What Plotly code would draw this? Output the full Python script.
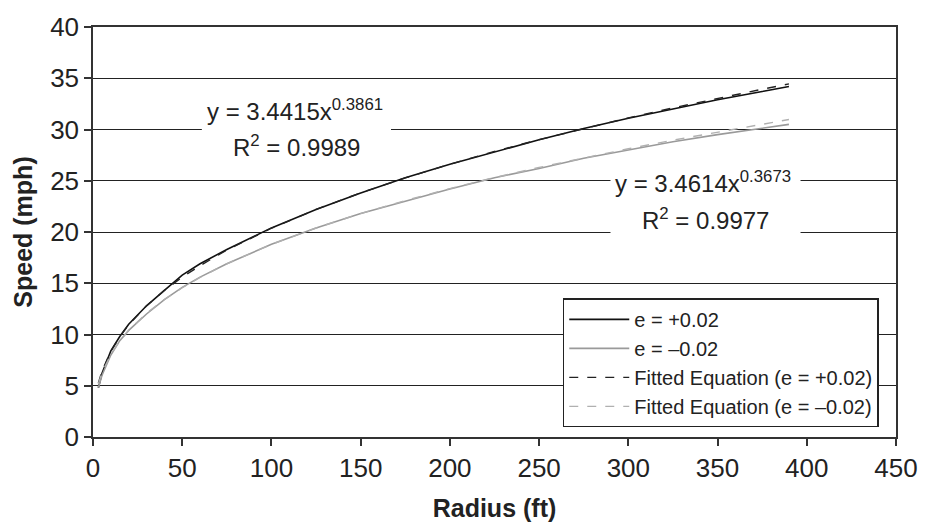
import plotly.graph_objects as go

# ---- data ----
radius = [3, 5, 10, 15, 20, 30, 40, 50, 60, 75, 100, 125, 150, 175, 200,
          225, 250, 275, 300, 325, 350, 375, 390]
speed_pos = [4.8, 6.2, 8.4, 9.8, 11.0, 12.8, 14.3, 15.8, 16.9, 18.3, 20.4, 22.2,
             23.8, 25.3, 26.6, 27.8, 29.0, 30.1, 31.1, 32.0, 32.9, 33.7, 34.2]
speed_neg = [4.8, 6.0, 8.0, 9.4, 10.4, 12.0, 13.4, 14.6, 15.6, 16.9, 18.8, 20.4,
             21.8, 23.0, 24.2, 25.3, 26.2, 27.2, 28.0, 28.8, 29.5, 30.1, 30.5]
fit_pos = [5.26, 6.41, 8.37, 9.79, 10.94, 12.80, 14.30, 15.59, 16.72, 18.23, 20.37,
           22.20, 23.82, 25.28, 26.61, 27.86, 29.01, 30.10, 31.13, 32.11, 33.04,
           33.93, 34.45]
fit_neg = [5.18, 6.25, 8.06, 9.36, 10.40, 12.07, 13.42, 14.56, 15.57, 16.90, 18.79,
           20.39, 21.80, 23.07, 24.23, 25.31, 26.30, 27.24, 28.12, 28.96, 29.76,
           30.53, 30.97]

series_names = ["e = +0.02", "e = \u20130.02",
                "Fitted Equation (e = +0.02)", "Fitted Equation (e = \u20130.02)"]

eq1 = "y = 3.4415x<sup>0.3861</sup>"
r1 = "R<sup>2</sup> = 0.9989"
eq2 = "y = 3.4614x<sup>0.3673</sup>"
r2 = "R<sup>2</sup> = 0.9977"

FONT = "Liberation Sans, Arial, sans-serif"

fig = go.Figure()
fig.add_trace(go.Scatter(x=radius, y=speed_pos, mode="lines", name=series_names[0],
                         line=dict(color="#111111", width=1.6), legendgroup="a"))
fig.add_trace(go.Scatter(x=radius, y=speed_neg, mode="lines", name=series_names[1],
                         line=dict(color="#9a9a9a", width=1.6), legendgroup="b"))
fig.add_trace(go.Scatter(x=radius, y=fit_pos, mode="lines", name=series_names[2],
                         line=dict(color="#222222", width=1.4, dash="dash"), legendgroup="c"))
fig.add_trace(go.Scatter(x=radius, y=fit_neg, mode="lines", name=series_names[3],
                         line=dict(color="#b0b0b0", width=1.4, dash="dash"), legendgroup="d"))

# white masks breaking gridlines behind the equations
fig.add_shape(type="rect", x0=61, x1=167, y0=29.4, y1=30.6, xref="x", yref="y",
              fillcolor="white", line=dict(width=0), layer="above")
fig.add_shape(type="rect", x0=290, x1=396.5, y0=19.4, y1=25.6, xref="x", yref="y",
              fillcolor="white", line=dict(width=0), layer="above")

ann_font = dict(family=FONT, size=24, color="#222222")
for txt, xx, yy in [(eq1, 113, 31.95), (r1, 114, 28.4), (eq2, 342, 24.85), (r2, 343, 21.3)]:
    fig.add_annotation(text=txt, x=xx, y=yy, xref="x", yref="y", showarrow=False,
                       font=ann_font, xanchor="center", yanchor="middle")

fig.update_layout(
    width=930, height=531,
    margin=dict(l=93, r=31, t=20, b=94),
    paper_bgcolor="white", plot_bgcolor="white",
    font=dict(family=FONT, color="#222222"),
    showlegend=True,
    legend=dict(x=0.585, y=0.338, xanchor="left", yanchor="top",
                bgcolor="white", bordercolor="#222222", borderwidth=1.5,
                font=dict(family=FONT, size=20, color="#222222"),
                itemwidth=60, tracegroupgap=6, traceorder="normal"),
)
fig.update_xaxes(range=[0, 450], tick0=0, dtick=50, showgrid=False, zeroline=False,
                 showline=True, linecolor="#333333", linewidth=1.5, mirror=True,
                 ticks="outside", ticklen=7, tickcolor="#333333", tickwidth=1.5,
                 tickfont=dict(family=FONT, size=26, color="#222222"),
                 title=dict(text="<b>Radius (ft)</b>", standoff=18,
                            font=dict(family=FONT, size=25, color="#222222")))
fig.update_yaxes(range=[0, 40], tick0=0, dtick=5, showgrid=True, gridcolor="#222222",
                 gridwidth=1.3, zeroline=False,
                 showline=True, linecolor="#333333", linewidth=1.5, mirror=True,
                 ticks="outside", ticklen=7, tickcolor="#333333", tickwidth=1.5,
                 tickfont=dict(family=FONT, size=26, color="#222222"),
                 title=dict(text="<b>Speed (mph)</b>", standoff=10,
                            font=dict(family=FONT, size=25, color="#222222")))

fig.write_html("out.html")
